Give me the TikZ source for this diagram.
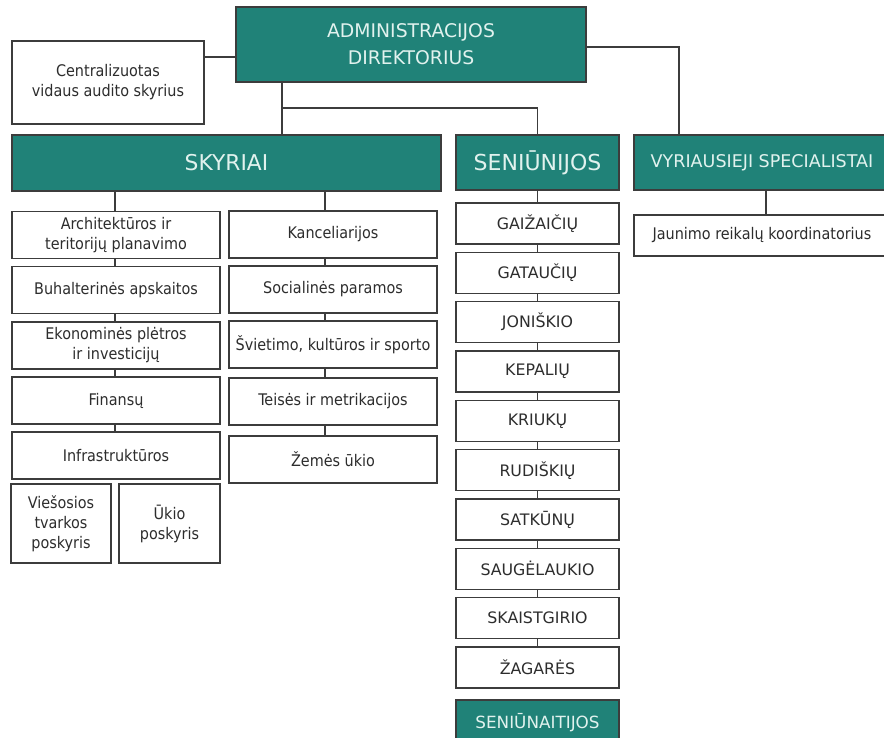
\documentclass[tikz,border=0pt]{standalone}
\usepackage{fontspec}
\setmainfont{DejaVu Sans}
\newfontfamily\cond{DejaVu Sans Condensed}
\definecolor{teal1}{RGB}{32,130,120}
\definecolor{edge}{RGB}{60,60,60}
\definecolor{txt}{RGB}{45,45,45}
\definecolor{htxt}{RGB}{225,242,238}
\begin{document}
\begin{tikzpicture}[x=1pt,y=-1pt,
  box/.style={draw=edge, line width=1.5pt, fill=white, text=txt, align=center, inner sep=0pt, font=\cond\fontsize{16}{20}\selectfont},
  head/.style={box, fill=teal1, text=htxt},
  sen/.style={box, minimum width=163pt, minimum height=41pt, font=\fontsize{15.8}{20}\selectfont},
  colbox/.style={box, minimum width=208pt, minimum height=47pt},
  wire/.style={draw=edge, line width=1.3pt}]
\useasboundingbox (0,0) rectangle (884,738);

% top level
\node[head, minimum width=350pt, minimum height=75pt, font=\fontsize{18.8}{26.7}\selectfont] (admin) at (411,44.5) {ADMINISTRACIJOS\\DIREKTORIUS};
\node[box, minimum width=192pt, minimum height=83pt] (audit) at (108,82.5) {Centralizuotas\\vidaus audito skyrius};

% headers
\node[head, minimum width=429pt, minimum height=56pt, font=\fontsize{21.8}{26}\selectfont] (skyriai) at (226.5,163) {SKYRIAI};
\node[head, minimum width=163pt, minimum height=55pt, font=\fontsize{22}{26}\selectfont] (seniunijos) at (537.5,162.5) {SENIŪNIJOS};
\node[head, minimum width=256pt, minimum height=55pt, font=\fontsize{17.5}{22}\selectfont] (vyr) at (762,162.5) {VYRIAUSIEJI SPECIALISTAI};
\node[box, minimum width=256pt, minimum height=41pt] (jaunimo) at (762,235.5) {Jaunimo reikalų koordinatorius};

% skyriai column 1
\node[colbox] (c11) at (116,235) {Architektūros ir\\teritorijų planavimo};
\node[colbox] (c12) at (116,290) {Buhalterinės apskaitos};
\node[colbox] (c13) at (116,345.5) {Ekonominės plėtros\\ir investicijų};
\node[colbox] (c14) at (116,400.5) {Finansų};
\node[colbox] (c15) at (116,455.5) {Infrastruktūros};
\node[box, minimum width=100pt, minimum height=79pt] (vies) at (61,523.5) {Viešosios\\tvarkos\\poskyris};
\node[box, minimum width=101pt, minimum height=79pt] (ukio) at (169.5,523.5) {Ūkio\\poskyris};

% skyriai column 2
\node[colbox] (c21) at (333,234.5) {Kanceliarijos};
\node[colbox] (c22) at (333,289.5) {Socialinės paramos};
\node[colbox] (c23) at (333,344.5) {Švietimo, kultūros ir sporto};
\node[colbox] (c24) at (333,401.5) {Teisės ir metrikacijos};
\node[colbox] (c25) at (333,459.5) {Žemės ūkio};

% seniunijos
\node[sen] (s1) at (537.5,223.5) {GAIŽAIČIŲ};
\node[sen] (s2) at (537.5,272.8) {GATAUČIŲ};
\node[sen] (s3) at (537.5,322.2) {JONIŠKIO};
\node[sen] (s4) at (537.5,371.5) {KEPALIŲ};
\node[sen] (s5) at (537.5,420.8) {KRIUKŲ};
\node[sen] (s6) at (537.5,470.2) {RUDIŠKIŲ};
\node[sen] (s7) at (537.5,519.5) {SATKŪNŲ};
\node[sen] (s8) at (537.5,568.8) {SAUGĖLAUKIO};
\node[sen] (s9) at (537.5,618.2) {SKAISTGIRIO};
\node[sen] (s10) at (537.5,667.5) {ŽAGARĖS};
\node[head, minimum width=163pt, minimum height=45pt, font=\fontsize{16.8}{20}\selectfont] (seniunaitijos) at (537.5,722.5) {SENIŪNAITIJOS};

% connectors
\coordinate (j1) at (220,57);
\coordinate (bus) at (282,108);
\coordinate (j2) at (679,47);
\coordinate (j3) at (766,0);
\coordinate (k1) at (115,0);
\coordinate (k2) at (325,0);
\draw[wire] (j1 -| audit.east) -- (j1 -| admin.west);
\draw[wire] (admin.south -| bus) -- (skyriai.north -| bus);
\draw[wire] (bus) -- (bus -| seniunijos) -- (seniunijos.north);
\draw[wire] (j2 -| admin.east) -- (j2) -- (vyr.north -| j2);
\draw[wire] (vyr.south -| j3) -- (jaunimo.north -| j3);

\draw[wire] (skyriai.south -| k1) -- (c11.north -| k1);
\draw[wire] (c11.south -| k1) -- (c12.north -| k1);
\draw[wire] (c12.south -| k1) -- (c13.north -| k1);
\draw[wire] (c13.south -| k1) -- (c14.north -| k1);
\draw[wire] (c14.south -| k1) -- (c15.north -| k1);

\draw[wire] (skyriai.south -| k2) -- (c21.north -| k2);
\draw[wire] (c21.south -| k2) -- (c22.north -| k2);
\draw[wire] (c22.south -| k2) -- (c23.north -| k2);
\draw[wire] (c23.south -| k2) -- (c24.north -| k2);
\draw[wire] (c24.south -| k2) -- (c25.north -| k2);

\draw[wire] (seniunijos.south) -- (s1.north);
\foreach \a/\b in {s1/s2,s2/s3,s3/s4,s4/s5,s5/s6,s6/s7,s7/s8,s8/s9,s9/s10}
  \draw[wire] (\a.south) -- (\b.north);
\end{tikzpicture}
\end{document}
